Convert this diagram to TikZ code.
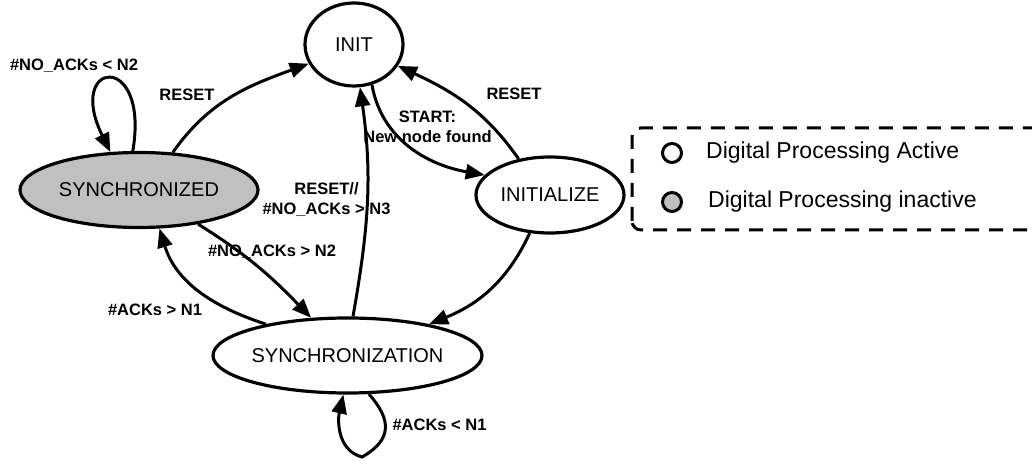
\documentclass[tikz,border=0pt]{standalone}
\usepackage{fontspec}
\setmainfont{Liberation Sans}
\usetikzlibrary{arrows.meta,shapes.geometric}
\definecolor{stategray}{RGB}{192,192,192}
\tikzset{
  state/.style={ellipse, draw, line width=3.2pt, inner sep=0pt,
    font=\fontsize{20}{24}\selectfont},
  edge/.style={line width=3pt, -{Triangle[length=19pt,width=15pt]}},
  lbl/.style={inner sep=0pt, font=\fontsize{16.5}{20}\selectfont\bfseries, align=center},
  legendtext/.style={inner sep=0pt, anchor=west, font=\fontsize{23}{26}\selectfont},
  legendmark/.style={circle, draw, line width=3pt, minimum size=19pt, inner sep=0pt}
}
\newcommand{\ctr}[1]{\makebox[0pt][c]{#1}}
\begin{document}
\begin{tikzpicture}[x=1pt,y=1pt]
\useasboundingbox (0,0) rectangle (1032,460);

% states
\node[state, minimum width=98pt, minimum height=83pt] (init) at (354,415.5) {\ctr{INIT}};
\node[state, fill=stategray, minimum width=238pt, minimum height=75pt] (synced) at (139,270) {\ctr{SYNCHRONIZED}};
\node[state, minimum width=148pt, minimum height=76pt] (initz) at (550,265) {\ctr{INITIALIZE}};
\node[state, minimum width=269pt, minimum height=75pt] (synch) at (347.5,104.5) {\ctr{SYNCHRONIZATION}};

% transitions
\draw[edge] (synced.99) .. controls (150,410) and (65,400) .. (synced.127);
\draw[edge] (synced.48) to[out=55,in=200] (init.203);
\draw[edge] (init.294) to[out=-80,in=170] (initz.163);
\draw[edge] (initz.131) to[out=125,in=-25] (init.334);
\draw[edge] (synch.82) to[out=80,in=-82] (init.278);
\draw[edge] (synced.330) to[out=-32,in=134] (synch.134);
\draw[edge] (synch.159) to[out=162,in=-73] (synced.298);
\draw[edge] (initz.242) to[out=-115,in=22] (synch.21);
\draw[edge] (synch.299) .. controls (392,40) and (392,20) .. (362,3)
  .. controls (336,10) and (338,42) .. (synch.264);

% transition labels
\node[lbl] (l1) at (74,394) {\#NO\_ACKs < N2};
\node[lbl] (l2) at (187,365) {RESET};
\node[lbl] (l3) at (427.5,333) {START:\\New node found};
\node[lbl] (l4) at (514,366) {RESET};
\node[lbl] (l5) at (326.5,260.5) {RESET//\\\#NO\_ACKs > N3};
\node[lbl] (l6) at (272,208) {\#NO\_ACKs > N2};
\node[lbl] (l7) at (155,150) {\#ACKs > N1};
\node[lbl] (l8) at (439.5,35) {\#ACKs < N1};

% legend
\draw[line width=3pt, dash pattern=on 14pt off 10pt, rounded corners=9pt]
  (632,230) rectangle (1050,332);
\node[legendmark] (m1) at (672,307) {};
\node[legendmark, fill=stategray] (m2) at (672,258) {};
\node[legendtext] (t1) at (706,307) {Digital Processing Active};
\node[legendtext] (t2) at (708,258) {Digital Processing inactive};
\end{tikzpicture}
\end{document}
